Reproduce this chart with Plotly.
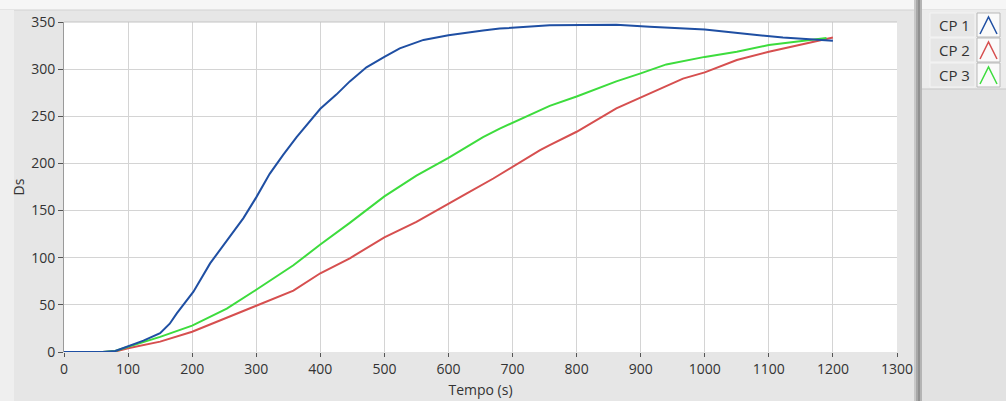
import plotly.graph_objects as go

# ---- data ----
t_cp1 = [0, 60, 80, 100, 124, 150, 165, 176, 186, 202, 228, 243, 254, 280, 300, 311, 321, 342, 363,
         400, 425, 446, 472, 500, 524, 561, 600, 654, 680, 758, 800, 862, 914, 1000, 1070, 1122, 1200]
v_cp1 = [0, 0, 1, 6, 12, 20, 30, 41, 50, 64, 94, 108, 118, 142, 164, 177, 189, 209, 228,
         258, 273, 287, 302, 313, 322, 331, 336, 341, 343, 346.5, 347, 347, 345, 342, 337, 333.5, 330]

t_cp2 = [60, 80, 100, 150, 200, 254, 300, 358, 400, 446, 500, 550, 600, 628, 670, 700, 743, 758,
         800, 862, 900, 966, 1000, 1050, 1100, 1149, 1200]
v_cp2 = [0, 0.5, 4, 11, 21.5, 36, 49, 65, 83.5, 99.4, 121.6, 138, 157.7, 168, 184, 196.5, 214, 219.5,
         233.6, 258.4, 270, 290, 296.6, 309.7, 318.5, 325.6, 333.5]

t_cp3 = [60, 80, 100, 150, 200, 254, 300, 358, 400, 446, 500, 550, 600, 620, 654, 680, 758, 800,
         862, 900, 940, 1000, 1050, 1100, 1149, 1190]
v_cp3 = [0, 1, 5.6, 16, 28, 46, 66, 92, 114, 137, 165, 187, 206, 214, 228, 237, 261, 271,
         287, 295.5, 305, 313, 318.5, 325.6, 330, 333]

series_names = ["CP 1", "CP 2", "CP 3"]
series_colors = ["#1f4fa3", "#d64f4f", "#3ddc3d"]
x_ticks = list(range(0, 1301, 100))
y_ticks = list(range(0, 351, 50))

# ---- layout geometry (pixels) ----
W, H = 1006, 401
L, R, T, B = 64, 897, 22, 352


def px(x):
    return (x - L) / (R - L)


def py(y):
    return (B - y) / (B - T)


fig = go.Figure()
order = [1, 2, 0]  # blue drawn last (on top)
all_t = [t_cp1, t_cp2, t_cp3]
all_v = [v_cp1, v_cp2, v_cp3]
for i in order:
    fig.add_trace(go.Scatter(x=all_t[i], y=all_v[i], mode="lines", name=series_names[i],
                             line=dict(color=series_colors[i], width=2), showlegend=False))

font = "Open Sans, Noto Sans, sans-serif"
fig.update_layout(
    width=W, height=H, autosize=False,
    margin=dict(l=L, r=W - R, t=T, b=H - B, pad=0, autoexpand=False),
    paper_bgcolor="#e6e6e6",
    plot_bgcolor="#ffffff",
    font=dict(family=font, size=14, color="#333333"),
    xaxis=dict(range=[0, 1300], tickvals=x_ticks, ticks="outside", ticklen=4,
               tickcolor="#555555", showgrid=True, gridcolor="#d4d4d4", gridwidth=1,
               zeroline=False, showline=False, automargin=False,
               title=dict(text="Tempo (s)", font=dict(size=14), standoff=8),
               tickfont=dict(size=14)),
    yaxis=dict(range=[0, 350], tickvals=y_ticks, ticks="outside", ticklen=5,
               tickcolor="#555555", showgrid=True, gridcolor="#d4d4d4", gridwidth=1,
               zeroline=False, showline=True, linecolor="#9a9a9a", linewidth=1, automargin=False,
               title=dict(text="Ds", font=dict(size=14), standoff=3),
               tickfont=dict(size=14)),
)

shapes = []
# top light strip
shapes.append(dict(type="rect", xref="paper", yref="paper", x0=px(0), x1=px(W), y0=py(10), y1=py(0),
                   fillcolor="#f6f6f6", line=dict(width=0), layer="below"))
shapes.append(dict(type="line", xref="paper", yref="paper", x0=px(0), x1=px(W), y0=py(10), y1=py(10),
                   line=dict(color="#d2d2d2", width=1), layer="below"))
# left light strip
shapes.append(dict(type="rect", xref="paper", yref="paper", x0=px(0), x1=px(14), y0=py(H), y1=py(10),
                   fillcolor="#efefef", line=dict(width=0), layer="below"))
# plot top border
shapes.append(dict(type="line", xref="paper", yref="paper", x0=0, x1=1, y0=1, y1=1,
                   line=dict(color="#c4c4c4", width=1), layer="above"))
# separator shadow
for x0, x1, c in [(914, 916, "#c8c8c8"), (916, 918, "#a8a8a8"), (918, 920, "#909090"), (920, 922, "#b4b4b4")]:
    shapes.append(dict(type="rect", xref="paper", yref="paper", x0=px(x0), x1=px(x1), y0=py(H), y1=py(0),
                       fillcolor=c, line=dict(width=0), layer="below"))
# legend panel
shapes.append(dict(type="rect", xref="paper", yref="paper", x0=px(922), x1=px(W), y0=py(H), y1=py(10),
                   fillcolor="#e2e2e2", line=dict(width=0), layer="below"))
shapes.append(dict(type="rect", xref="paper", yref="paper", x0=px(922), x1=px(W), y0=py(89), y1=py(10),
                   fillcolor="#ececec", line=dict(width=0), layer="below"))
shapes.append(dict(type="line", xref="paper", yref="paper", x0=px(922), x1=px(W), y0=py(89), y1=py(89),
                   line=dict(color="#c8c8c8", width=1), layer="below"))

annotations = []
row_tops = [13, 38, 63]
for top, name, col in zip(row_tops, series_names, series_colors):
    bot = top + 24
    cy = (top + bot) / 2
    shapes.append(dict(type="rect", xref="paper", yref="paper", x0=px(930), x1=px(975), y0=py(bot), y1=py(top),
                       fillcolor="#e6e6e6", line=dict(color="#f4f4f4", width=1), layer="below"))
    shapes.append(dict(type="rect", xref="paper", yref="paper", x0=px(977), x1=px(1000), y0=py(bot), y1=py(top),
                       fillcolor="#fafafa", line=dict(color="#b8b8b8", width=1), layer="below"))
    path = "M {} {} L {} {} L {} {}".format(px(980), py(bot - 3), px(988.5), py(top + 4), px(997), py(bot - 3))
    shapes.append(dict(type="path", xref="paper", yref="paper", path=path,
                       line=dict(color=col, width=1.5), layer="above"))
    annotations.append(dict(x=px(937), y=py(cy), xref="paper", yref="paper", text=name, showarrow=False,
                            xanchor="left", yanchor="middle", font=dict(size=15, color="#333333", family=font)))

fig.update_layout(shapes=shapes, annotations=annotations)
fig.write_html("out.html", config={"displayModeBar": False},
               post_script="document.body.style.margin='0px';")
